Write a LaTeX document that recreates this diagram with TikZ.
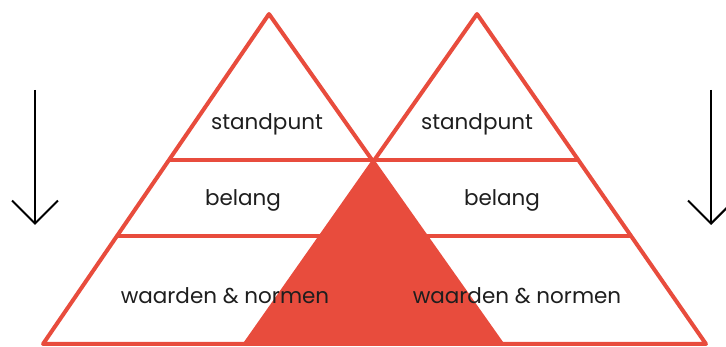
\documentclass[tikz,border=0pt]{standalone}
\usepackage{fontspec}
\setmainfont{Poppins}
\usetikzlibrary{arrows.meta,calc}

\definecolor{pyrred}{HTML}{E84C3D}
\definecolor{pyrtext}{HTML}{1E1E1E}

\tikzset{
    pyramid/.style={draw=pyrred, line width=4pt, line join=round},
    overlap/.style={fill=pyrred, draw=none},
    level/.style={font=\fontsize{21.5}{24}\selectfont, text=pyrtext, inner sep=0pt},
    flow/.style={line width=2pt, -{Straight Barb[length=23pt, width=46pt, line width=2pt]}}
}

\begin{document}
\begin{tikzpicture}[x=1pt, y=-1pt]
    \useasboundingbox (0, 0) rectangle (726, 347);

    % corners of the two pyramids
    \coordinate (topL) at (269, 14);
    \coordinate (baseLl) at (43, 344);
    \coordinate (baseLr) at (502, 344);
    \coordinate (topR) at (477, 14);
    \coordinate (baseRl) at (245, 344);
    \coordinate (baseRr) at (706, 344);
    \coordinate (cross) at (intersection of topL--baseLr and topR--baseRl);

    % shared part
    \fill[overlap] (cross) -- (baseRl) -- (baseLr) -- cycle;

    \draw[pyramid] (topL) -- (baseLl) -- (baseLr) -- cycle;
    \draw[pyramid] (topR) -- (baseRl) -- (baseRr) -- cycle;

    \draw[pyramid] ($(topL)!0.4438!(baseLl)$) -- ($(topR)!0.4438!(baseRr)$);
    \draw[pyramid] ($(topL)!0.672!(baseLl)$) -- ($(topR)!0.672!(baseRr)$);

    \node[level] (standL) at (267, 124) {standpunt};
    \node[level] (belangL) at (243, 200) {belang};
    \node[level] (waardenL) at (225, 296) {waarden \& normen};
    \node[level] (standR) at (477, 124) {standpunt};
    \node[level] (belangR) at (502, 200) {belang};
    \node[level] (waardenR) at (517, 296) {waarden \& normen};

    % arrows
    \coordinate (inL) at (35, 90);
    \coordinate (outL) at (35, 225);
    \coordinate (inR) at (711, 90);
    \coordinate (outR) at (711, 225);
    \draw[flow] (inL) -- (outL);
    \draw[flow] (inR) -- (outR);
\end{tikzpicture}
\end{document}
